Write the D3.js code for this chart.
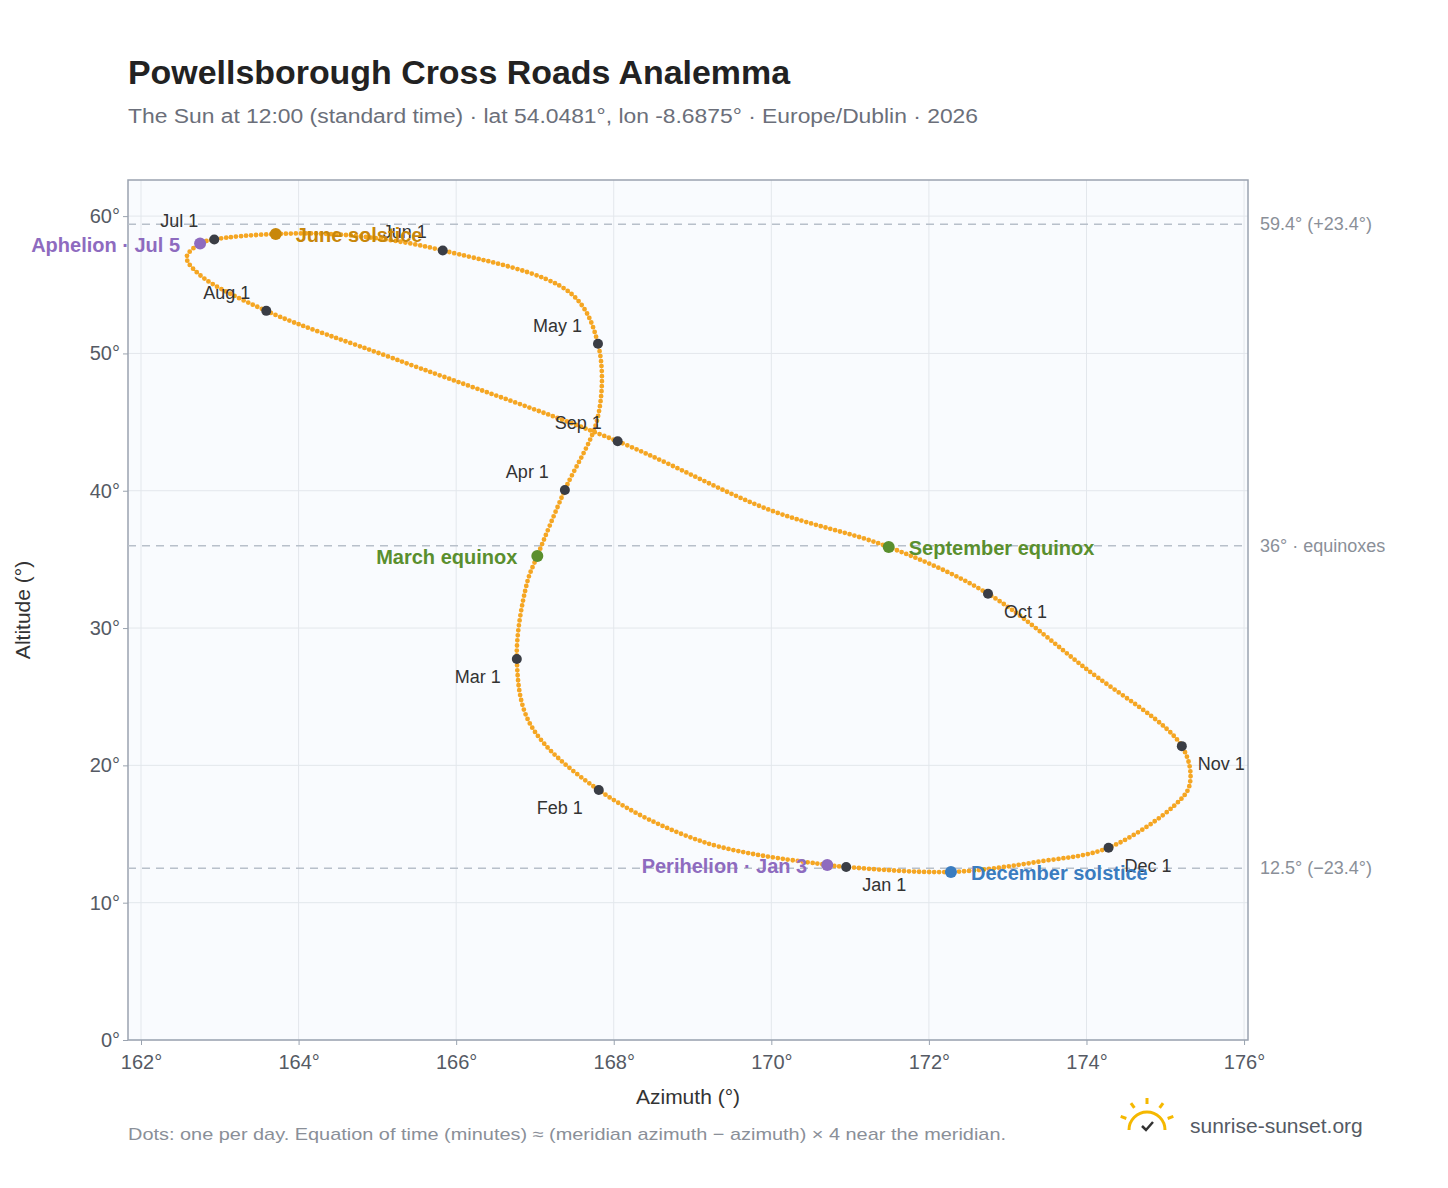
<!DOCTYPE html>
<html><head><meta charset="utf-8">
<script src="https://cdn.jsdelivr.net/npm/d3@7"></script>
<style>
body{margin:0;background:#fff;font-family:"Liberation Sans",Arial,sans-serif;}
</style></head><body>
<svg id="c" width="1448" height="1188"></svg>
<script>
// path of the sun (azimuth °, altitude °)
var pathAz  = [170.95,170.71,169.15,167.81,166.94,166.77,166.9,167.03,167.38,167.8,167.8,167.45,165.83,164.65,163.71,162.93,162.75,162.58,162.75,163.59,165.22,168.05,169.98,171.49,172.75,173.98,175.21,175.31,175.12,174.28,173.41,172.28,170.95];
var pathAlt = [12.6,12.75,14.4,18.2,23.0,27.75,33.3,35.25,40.06,45.4,50.7,54.4,57.5,58.6,58.7,58.3,58.0,57.0,55.7,53.1,49.6,43.6,38.6,35.9,32.5,27.1,21.4,18.6,17.1,14.0,13.0,12.24,12.6];

var months   = ["Jan 1","Feb 1","Mar 1","Apr 1","May 1","Jun 1","Jul 1","Aug 1","Sep 1","Oct 1","Nov 1","Dec 1"];
var monthAz  = [170.95,167.81,166.77,167.38,167.80,165.83,162.93,163.59,168.05,172.75,175.21,174.28];
var monthAlt = [12.6,18.2,27.75,40.06,50.7,57.5,58.3,53.1,43.6,32.5,21.4,14.0];
var monthPos = ["rb","lb","lb","la","l","la","la","la","la","rb","rb","rb"];

var events   = ["Perihelion · Jan 3","March equinox","June solstice","Aphelion · Jul 5","September equinox","December solstice"];
var eventAz  = [170.71,167.03,163.71,162.75,171.49,172.28];
var eventAlt = [12.75,35.25,58.7,58.0,35.9,12.24];
var eventCol = ["#8e6bbf","#5a8f2e","#c8870a","#8e6bbf","#5a8f2e","#3a7cc0"];
var eventSide= ["l","l","r","l","r","r"];

var refVals  = [59.4,36,12.5];
var refTexts = ["59.4° (+23.4°)","36° · equinoxes","12.5° (−23.4°)"];
var xTicks = [162,164,166,168,170,172,174,176];
var yTicks = [0,10,20,30,40,50,60];

var svg = d3.select("#c");
var L=128,R=1248,T=180,B=1040;
var x = d3.scaleLinear().domain([161.835,176.05]).range([L,R]);
var y = d3.scaleLinear().domain([0,62.63]).range([B,T]);

svg.append("text").attr("x",128).attr("y",84).attr("font-size",33).attr("font-weight","bold").attr("fill","#222").attr("textLength",662).attr("lengthAdjust","spacingAndGlyphs").text("Powellsborough Cross Roads Analemma");
svg.append("text").attr("x",128).attr("y",123).attr("font-size",20).attr("fill","#6b6f7a").attr("textLength",850).attr("lengthAdjust","spacingAndGlyphs").text("The Sun at 12:00 (standard time) · lat 54.0481°, lon -8.6875° · Europe/Dublin · 2026");

svg.append("rect").attr("x",L).attr("y",T).attr("width",R-L).attr("height",B-T).attr("fill","#f9fbfe");
xTicks.forEach(function(t){svg.append("line").attr("x1",x(t)).attr("x2",x(t)).attr("y1",T).attr("y2",B).attr("stroke","#e3e7ec");});
yTicks.forEach(function(t){svg.append("line").attr("x1",L).attr("x2",R).attr("y1",y(t)).attr("y2",y(t)).attr("stroke","#e3e7ec");});
svg.append("rect").attr("x",L).attr("y",T).attr("width",R-L).attr("height",B-T).attr("fill","none").attr("stroke","#9aa3b0").attr("stroke-width",1.5);

refVals.forEach(function(v,i){
  svg.append("line").attr("x1",L).attr("x2",R).attr("y1",y(v)).attr("y2",y(v)).attr("stroke","#b8c0ca").attr("stroke-width",1.5).attr("stroke-dasharray","8,6");
  svg.append("text").attr("x",1260).attr("y",y(v)+6).attr("font-size",18).attr("fill","#8a8f98").text(refTexts[i]);
});

var ax = svg.append("g").attr("transform","translate(0,"+B+")").call(d3.axisBottom(x).tickValues(xTicks).tickFormat(function(d){return d+"°";}).tickSize(5));
var ay = svg.append("g").attr("transform","translate("+L+",0)").call(d3.axisLeft(y).tickValues(yTicks).tickFormat(function(d){return d+"°";}).tickSize(5));
[ax,ay].forEach(function(g){g.select(".domain").remove();g.selectAll("line").attr("stroke","#9aa3b0");g.selectAll("text").attr("font-size",20).attr("fill","#555a64").attr("font-family","Liberation Sans, Arial, sans-serif");});
ax.selectAll("text").attr("dy","1.05em");
svg.append("text").attr("x",(L+R)/2).attr("y",1104).attr("text-anchor","middle").attr("font-size",21).attr("fill","#333").text("Azimuth (°)");
svg.append("text").attr("transform","translate(30,610) rotate(-90)").attr("text-anchor","middle").attr("font-size",21).attr("fill","#333").text("Altitude (°)");

var pts = pathAz.map(function(a,i){return [x(a),y(pathAlt[i])];});
svg.append("path").attr("d",d3.line().curve(d3.curveCatmullRomClosed)(pts.slice(0,-1)))
  .attr("fill","none").attr("stroke","#f5a623").attr("stroke-width",4.8).attr("stroke-linecap","round").attr("stroke-dasharray","0 5");

months.forEach(function(m,i){
  var px=x(monthAz[i]),py=y(monthAlt[i]);
  svg.append("circle").attr("cx",px).attr("cy",py).attr("r",5).attr("fill","#3a3d45");
  var p=monthPos[i],tx,ty,anc;
  if(p=="rb"){tx=px+16;ty=py+24;anc="start";}
  else if(p=="lb"){tx=px-16;ty=py+24;anc="end";}
  else {tx=px-16;ty=py-12;anc="end";}
  svg.append("text").attr("x",tx).attr("y",ty).attr("text-anchor",anc).attr("font-size",18).attr("fill","#333").text(m);
});

events.forEach(function(e,i){
  var px=x(eventAz[i]),py=y(eventAlt[i]);
  svg.append("circle").attr("cx",px).attr("cy",py).attr("r",6).attr("fill",eventCol[i]);
  var left=eventSide[i]=="l";
  svg.append("text").attr("x",left?px-20:px+20).attr("y",py+8).attr("text-anchor",left?"end":"start")
    .attr("font-size",20).attr("font-weight","bold").attr("fill",eventCol[i]).text(e);
});

svg.append("text").attr("x",128).attr("y",1140).attr("font-size",17).attr("fill","#8a8f98").attr("textLength",878).attr("lengthAdjust","spacingAndGlyphs").text("Dots: one per day. Equation of time (minutes) ≈ (meridian azimuth − azimuth) × 4 near the meridian.");
var lg=svg.append("g").attr("transform","translate(1147,1126)");
lg.append("path").attr("d","M-18,4 A18,18 0 0 1 18,4").attr("fill","none").attr("stroke","#f5b800").attr("stroke-width",3);
[-70,-35,0,35,70].forEach(function(a){var r=a*Math.PI/180;lg.append("line").attr("x1",Math.sin(r)*22).attr("y1",-Math.cos(r)*22).attr("x2",Math.sin(r)*28).attr("y2",-Math.cos(r)*28).attr("stroke","#f5b800").attr("stroke-width",3);});
lg.append("path").attr("d","M-5,0 L-1,4 L6,-4").attr("fill","none").attr("stroke","#333").attr("stroke-width",2.5);
svg.append("text").attr("x",1190).attr("y",1133).attr("font-size",21).attr("fill","#555a64").text("sunrise-sunset.org");
</script></body></html>
